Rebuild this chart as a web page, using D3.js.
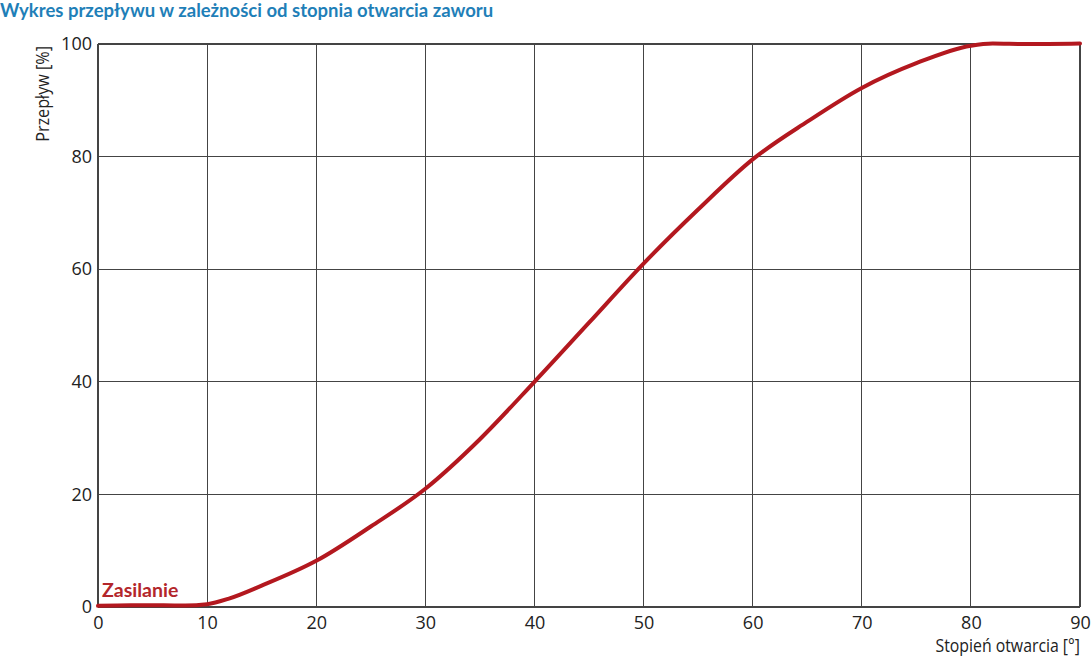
<!DOCTYPE html>
<html><head><meta charset="utf-8">
<script src="https://cdn.jsdelivr.net/npm/d3@7"></script>
<style>
body{margin:0;background:#fff;}
svg{display:block;}
</style></head>
<body>
<svg id="c" width="1091" height="659"></svg>
<script>
const title = "Wykres przepływu w zależności od stopnia otwarcia zaworu";
const xLabel = "Stopień otwarcia [°]";
const yLabel = "Przepływ [%]";
const seriesName = "Zasilanie";
const xTicks = [0,10,20,30,40,50,60,70,80,90];
const yTicks = [0,20,40,60,80,100];
const openingDeg = [0,3,6,8,10,12,15,20,25,30,35,40,45,50,55,60,65,70,75,80,82,85,90];
const flowPct =    [0.2,0.3,0.3,0.25,0.5,1.5,3.8,8.2,14.3,21,29.8,40,50.5,61,70.6,79.5,86.2,92.2,96.6,99.7,100.1,100,100.1];

const svg = d3.select("#c");
const m = {l:98, r:11, t:44, b:52};
const W = 1091, H = 659;
const x = d3.scaleLinear().domain([0,90]).range([m.l, W-m.r]);
const y = d3.scaleLinear().domain([0,100]).range([H-m.b, m.t]);

const g = svg.append("g");
g.selectAll(".vx").data(xTicks).join("line")
  .attr("x1",d=>x(d)).attr("x2",d=>x(d)).attr("y1",y(0)).attr("y2",y(100))
  .attr("stroke","#444").attr("stroke-width",1.2).attr("shape-rendering","crispEdges");
g.selectAll(".hy").data(yTicks).join("line")
  .attr("x1",x(0)).attr("x2",x(90)).attr("y1",d=>y(d)).attr("y2",d=>y(d))
  .attr("stroke","#444").attr("stroke-width",1.2).attr("shape-rendering","crispEdges");

const tickFont = "'Open Sans',sans-serif";
const xa = svg.append("g").attr("transform",`translate(0,${y(0)})`)
  .call(d3.axisBottom(x).tickValues(xTicks).tickSize(0).tickPadding(9).tickFormat(d3.format("d")));
xa.select(".domain").remove();
xa.selectAll("text").attr("font-family",tickFont).attr("font-size",18).attr("fill","#222").attr("dy","0.71em");
const ya = svg.append("g").attr("transform",`translate(${x(0)},0)`)
  .call(d3.axisLeft(y).tickValues(yTicks).tickSize(0).tickPadding(6).tickFormat(d3.format("d")));
ya.select(".domain").remove();
ya.selectAll("text").attr("font-family",tickFont).attr("font-size",18).attr("fill","#222");

svg.append("text").attr("transform","translate(1080,652) scale(0.88,1)").attr("text-anchor","end")
  .attr("font-family",tickFont).attr("font-size",18).attr("fill","#222").text(xLabel);
svg.append("text").attr("transform",`translate(49,${y(100)+2}) rotate(-90) scale(0.9,1)`).attr("text-anchor","end")
  .attr("font-family",tickFont).attr("font-size",18).attr("fill","#222").text(yLabel);

svg.append("text").attr("x",0).attr("y",17).attr("font-family","Lato,sans-serif").attr("font-weight","bold")
  .attr("font-size",18.5).attr("fill","#1f7fb8").text(title);

const pts = openingDeg.map((d,i)=>[d,flowPct[i]]);
svg.append("path").datum(pts)
  .attr("d", d3.line().x(d=>x(d[0])).y(d=>y(d[1])).curve(d3.curveMonotoneX))
  .attr("fill","none").attr("stroke","#b3181f").attr("stroke-width",4).attr("stroke-linecap","round");

svg.append("text").attr("x",x(0)+4).attr("y",y(0)-10).attr("font-family","Lato,sans-serif").attr("font-weight","bold")
  .attr("font-size",19.5).attr("fill","#b3262b").text(seriesName);
</script>
</body></html>
